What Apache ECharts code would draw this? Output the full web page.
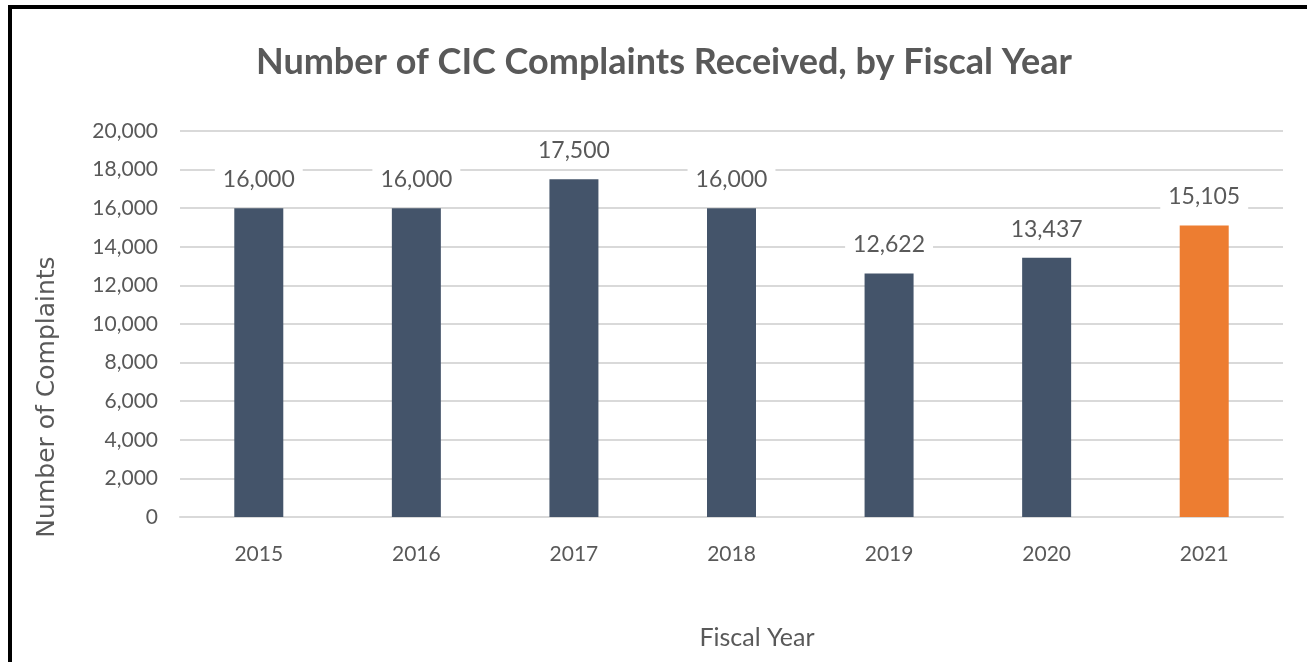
<!DOCTYPE html>
<html>
<head>
<meta charset="utf-8">
<script src="https://cdn.jsdelivr.net/npm/echarts@6/dist/echarts.min.js"></script>
<style>
    html, body { margin: 0; padding: 0; background: #fff; }
    #frame { position: absolute; left: 8px; top: 5px; width: 1320px; height: 700px; border: 4px solid #000; box-sizing: border-box; }
    #chart { position: absolute; left: 0; top: 0; width: 1307px; height: 662px; }
</style>
</head>
<body>
<div id="frame"></div>
<div id="chart"></div>
<script>
    // 数据
    var years = ['2015', '2016', '2017', '2018', '2019', '2020', '2021'];
    var complaints = [16000, 16000, 17500, 16000, 12622, 13437, 15105];
    var yTicks = [0, 2000, 4000, 6000, 8000, 10000, 12000, 14000, 16000, 18000, 20000];

    var baseColor = '#44546A';
    var lastColor = '#ED7D31';
    var textColor = '#595959';
    var font = 'Lato, "Open Sans", sans-serif';

    function fmt(v) {
        return String(v).replace(/\B(?=(\d{3})+(?!\d))/g, ',');
    }

    var myChart = echarts.init(document.getElementById('chart'));

    var option = {
        backgroundColor: 'transparent',
        animation: false,
        title: {
            text: 'Number of CIC Complaints Received, by Fiscal Year',
            left: 251,
            top: 39,
            textStyle: { fontFamily: font, fontSize: 36, fontWeight: 'bold', color: textColor }
        },
        grid: { left: 180, right: 24, top: 131, bottom: 145 },
        xAxis: {
            type: 'category',
            data: years,
            axisLine: { lineStyle: { color: '#d9d9d9', width: 2 } },
            axisTick: { show: false },
            axisLabel: { fontFamily: font, fontSize: 21, color: textColor, margin: 27 }
        },
        yAxis: {
            type: 'value',
            min: yTicks[0],
            max: yTicks[yTicks.length - 1],
            interval: yTicks[1] - yTicks[0],
            axisLine: { show: false },
            axisTick: { show: false },
            splitLine: { lineStyle: { color: '#d9d9d9', width: 2 } },
            axisLabel: {
                fontFamily: font, fontSize: 21, color: textColor, margin: 22,
                formatter: function (v) { return fmt(v); }
            }
        },
        graphic: [
            {
                type: 'text', x: 47, y: 397, rotation: Math.PI / 2,
                style: {
                    text: 'Number of Complaints', fontFamily: '"DejaVu Sans", sans-serif', fontSize: 25,
                    fill: textColor, align: 'center', verticalAlign: 'middle'
                }
            },
            {
                type: 'text', x: 757, y: 638,
                style: {
                    text: 'Fiscal Year', fontFamily: font, fontSize: 25,
                    fill: textColor, align: 'center', verticalAlign: 'middle'
                }
            }
        ],
        series: [{
            type: 'bar',
            barWidth: 49,
            data: complaints.map(function (v, i) {
                return {
                    value: v,
                    itemStyle: { color: i === complaints.length - 1 ? lastColor : baseColor }
                };
            }),
            label: {
                show: true,
                position: 'top',
                distance: 15,
                fontFamily: font,
                fontSize: 23,
                color: textColor,
                backgroundColor: '#fff',
                padding: [2, 8],
                formatter: function (p) { return fmt(p.value); }
            }
        }]
    };

    myChart.setOption(option);
</script>
</body>
</html>
